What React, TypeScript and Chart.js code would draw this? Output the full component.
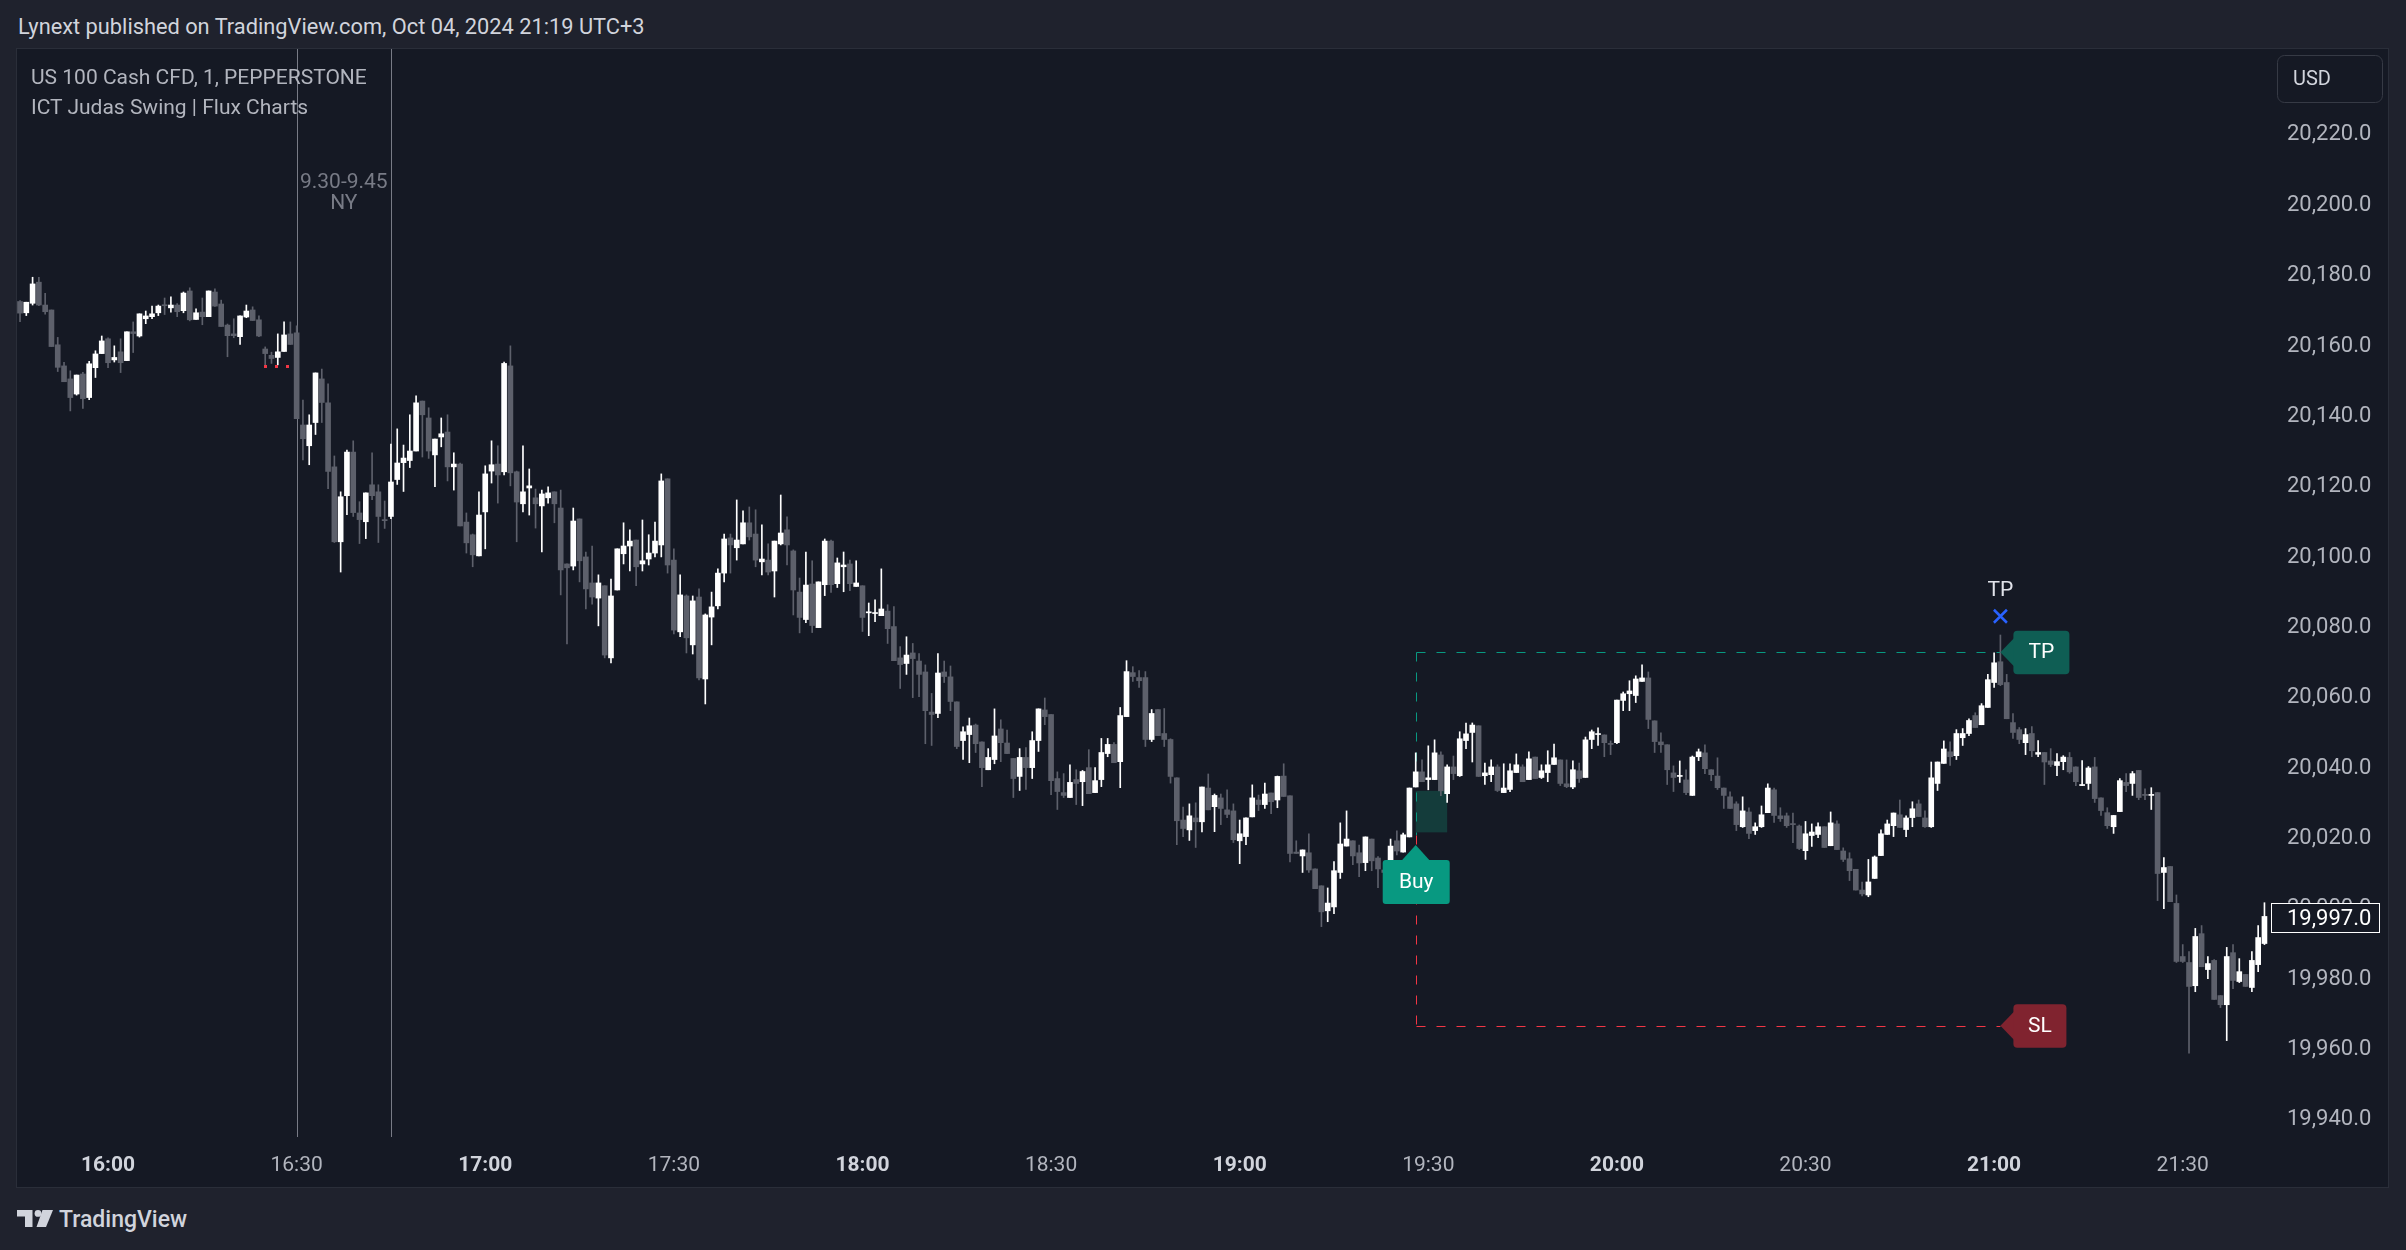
import React, { useEffect, useRef } from 'react';
import { Chart, registerables } from 'chart.js';

Chart.register(...registerables);

// ---------- data ----------
const START_TIME = '15:46';
const TIME_TICKS = ['16:00', '16:30', '17:00', '17:30', '18:00', '18:30', '19:00', '19:30', '20:00', '20:30', '21:00', '21:30'];
const PRICE_TICKS = [19940, 19960, 19980, 20000, 20020, 20040, 20060, 20080, 20100, 20120, 20140, 20160, 20180, 20200, 20220];

const OPEN = [
  20171.8, 20168.6, 20171.3, 20177.3, 20170.8, 20169.4, 20159.5, 20153.5, 20149.8, 20145.5,
  20151.2, 20144.5, 20153.0, 20157.0, 20161.2, 20155.2, 20157.5, 20155.0, 20163.2, 20162.0,
  20166.9, 20167.5, 20168.6, 20170.8, 20170.0, 20170.8, 20169.2, 20174.8, 20166.7, 20168.8,
  20167.5, 20174.5, 20171.1, 20165.1, 20162.6, 20161.8, 20167.4, 20169.4, 20166.6, 20158.3,
  20156.5, 20155.9, 20157.6, 20162.6, 20162.9, 20136.7, 20130.8, 20137.4, 20149.8, 20143.0,
  20124.8, 20103.5, 20116.6, 20129.0, 20111.7, 20109.2, 20119.7, 20117.7, 20109.8, 20110.7,
  20121.2, 20126.0, 20126.6, 20129.3, 20143.5, 20138.7, 20128.2, 20133.3, 20134.7, 20124.8,
  20125.6, 20109.1, 20105.5, 20099.5, 20112.0, 20123.6, 20125.6, 20123.4, 20153.5, 20123.4,
  20114.3, 20118.8, 20116.0, 20113.7, 20116.0, 20117.7, 20113.1, 20097.2, 20096.6, 20110.0,
  20099.2, 20091.8, 20087.5, 20091.0, 20070.5, 20089.8, 20100.1, 20102.3, 20104.0, 20097.2,
  20098.6, 20100.3, 20102.6, 20121.4, 20098.3, 20077.9, 20088.1, 20074.2, 20087.8, 20064.5,
  20082.1, 20085.3, 20094.6, 20104.6, 20101.8, 20102.9, 20108.9, 20105.7, 20097.8, 20098.3,
  20095.2, 20102.9, 20106.9, 20100.9, 20089.2, 20081.4, 20091.5, 20079.1, 20091.3, 20103.7,
  20091.6, 20096.4, 20097.2, 20090.8, 20091.0, 20083.3, 20083.1, 20082.5, 20083.8, 20079.4,
  20070.5, 20068.9, 20071.9, 20069.6, 20066.5, 20055.1, 20054.7, 20066.5, 20065.1, 20058.0,
  20047.0, 20048.7, 20051.4, 20046.6, 20038.7, 20041.6, 20050.3, 20046.3, 20041.9, 20036.8,
  20042.2, 20039.3, 20047.0, 20055.7, 20054.4, 20036.2, 20032.2, 20030.8, 20035.9, 20035.3,
  20039.3, 20032.2, 20035.9, 20043.3, 20045.9, 20041.0, 20053.8, 20066.3, 20064.9, 20064.9,
  20047.3, 20055.8, 20049.0, 20047.3, 20036.4, 20024.4, 20021.6, 20025.0, 20023.9, 20033.5,
  20028.2, 20030.7, 20027.3, 20027.0, 20018.5, 20019.7, 20025.3, 20030.1, 20028.8, 20032.1,
  20030.1, 20036.9, 20031.3, 20015.3, 20014.2, 20015.1, 20010.5, 20005.7, 19998.6, 19999.7,
  20009.5, 20017.0, 20018.5, 20015.1, 20012.3, 20019.0, 20013.6, 20010.2, 20010.6, 20018.5,
  20015.3, 20019.6, 20033.8, 20038.1, 20035.9, 20035.9, 20042.9, 20031.9, 20039.5, 20037.0,
  20047.0, 20049.3, 20051.2, 20037.0, 20037.3, 20039.5, 20032.2, 20033.1, 20037.9, 20039.5,
  20035.9, 20042.3, 20036.5, 20037.9, 20040.2, 20041.5, 20034.7, 20033.8, 20038.4, 20036.5,
  20047.3, 20048.7, 20048.6, 20046.0, 20046.4, 20058.4, 20060.3, 20059.8, 20063.8, 20064.8,
  20052.6, 20046.6, 20045.8, 20037.8, 20036.8, 20035.8, 20031.4, 20042.4, 20043.5, 20038.7,
  20036.9, 20033.5, 20031.0, 20029.0, 20022.5, 20026.7, 20021.4, 20022.5, 20026.5, 20033.0,
  20025.6, 20025.6, 20023.3, 20022.7, 20015.7, 20020.0, 20020.3, 20022.5, 20017.1, 20023.3,
  20015.6, 20013.4, 20010.4, 20004.5, 20003.1, 20007.8, 20014.3, 20020.3, 20022.8, 20025.9,
  20021.7, 20025.1, 20029.0, 20025.0, 20022.5, 20034.8, 20040.5, 20043.8, 20042.7, 20047.8,
  20049.0, 20054.1, 20051.5, 20056.4, 20063.5, 20069.4, 20063.5, 20052.1, 20050.1, 20046.4,
  20049.0, 20043.1, 20043.6, 20041.2, 20039.9, 20041.0, 20042.2, 20039.5, 20034.2, 20034.8,
  20039.5, 20030.7, 20026.5, 20022.5, 20026.8, 20035.1, 20034.8, 20038.5, 20031.5, 20031.4,
  20032.2, 20009.5, 20011.2, 20000.7, 19985.6, 19983.9, 19977.3, 19992.1, 19981.9, 19984.5,
  19974.5, 19971.9, 19986.7, 19978.5, 19980.5, 19976.8, 19983.3, 19989.3,
];
const HIGH = [
  20172.1, 20171.6, 20178.7, 20178.7, 20174.1, 20169.4, 20161.6, 20154.5, 20152.1, 20150.9,
  20151.7, 20154.8, 20157.8, 20162.0, 20161.5, 20159.2, 20161.2, 20163.2, 20166.0, 20168.3,
  20169.1, 20170.5, 20170.8, 20172.8, 20173.1, 20171.2, 20174.5, 20175.7, 20169.7, 20172.8,
  20174.8, 20175.4, 20172.2, 20165.4, 20166.9, 20167.7, 20170.8, 20170.3, 20167.7, 20158.9,
  20157.4, 20162.6, 20166.0, 20166.0, 20164.9, 20143.8, 20139.6, 20151.5, 20152.6, 20148.4,
  20127.9, 20117.7, 20129.6, 20132.2, 20114.9, 20117.4, 20128.8, 20119.7, 20115.1, 20131.3,
  20135.6, 20131.0, 20139.6, 20145.0, 20143.5, 20141.6, 20132.7, 20138.7, 20139.6, 20128.8,
  20125.9, 20111.7, 20105.7, 20117.7, 20125.1, 20132.2, 20130.8, 20154.6, 20159.2, 20123.6,
  20130.8, 20124.2, 20118.5, 20118.2, 20119.1, 20117.7, 20118.2, 20097.2, 20113.1, 20110.0,
  20100.6, 20102.3, 20094.1, 20091.0, 20092.9, 20101.5, 20108.9, 20106.9, 20104.0, 20109.7,
  20105.5, 20109.1, 20122.8, 20121.4, 20101.5, 20094.1, 20088.4, 20088.1, 20090.1, 20083.0,
  20089.2, 20095.8, 20105.7, 20105.7, 20115.4, 20112.3, 20113.4, 20112.6, 20108.3, 20102.9,
  20103.7, 20116.8, 20110.6, 20101.2, 20093.2, 20100.6, 20098.1, 20092.1, 20104.3, 20104.0,
  20098.9, 20100.6, 20098.3, 20098.1, 20091.0, 20086.1, 20087.0, 20095.8, 20085.6, 20085.1,
  20073.7, 20076.5, 20074.6, 20071.7, 20068.5, 20060.4, 20071.7, 20069.6, 20068.2, 20058.0,
  20050.9, 20053.4, 20051.7, 20046.6, 20044.7, 20056.0, 20052.9, 20050.0, 20041.9, 20044.7,
  20045.0, 20049.5, 20056.0, 20059.1, 20054.4, 20038.1, 20037.6, 20040.1, 20038.7, 20038.5,
  20044.4, 20039.3, 20047.6, 20047.6, 20046.4, 20056.4, 20069.7, 20068.0, 20066.9, 20066.6,
  20055.8, 20055.8, 20056.1, 20047.5, 20036.4, 20028.1, 20029.0, 20029.3, 20033.8, 20037.5,
  20031.8, 20031.8, 20033.0, 20029.0, 20024.4, 20025.0, 20034.4, 20031.5, 20034.9, 20032.1,
  20036.9, 20040.4, 20031.3, 20018.5, 20015.9, 20020.5, 20010.5, 20005.7, 20005.1, 20012.6,
  20023.6, 20027.0, 20018.5, 20017.3, 20019.6, 20019.0, 20014.0, 20012.5, 20019.0, 20021.3,
  20020.7, 20033.5, 20043.5, 20041.5, 20045.5, 20047.2, 20043.8, 20040.1, 20042.6, 20049.5,
  20052.0, 20052.0, 20051.2, 20040.6, 20041.5, 20040.1, 20040.4, 20040.4, 20043.2, 20040.1,
  20043.8, 20042.3, 20040.1, 20044.1, 20046.0, 20041.5, 20041.5, 20041.2, 20040.6, 20048.0,
  20050.0, 20050.6, 20048.6, 20046.9, 20058.5, 20060.8, 20064.0, 20065.4, 20068.5, 20066.5,
  20052.6, 20049.2, 20045.8, 20039.8, 20041.2, 20038.7, 20042.6, 20044.6, 20045.8, 20038.7,
  20042.1, 20033.5, 20032.4, 20029.6, 20031.0, 20027.9, 20023.6, 20028.4, 20034.7, 20033.5,
  20027.9, 20026.4, 20026.4, 20023.0, 20024.0, 20023.3, 20023.6, 20022.5, 20026.7, 20024.2,
  20016.5, 20015.1, 20010.4, 20006.8, 20013.2, 20014.2, 20021.6, 20024.4, 20026.4, 20030.1,
  20025.6, 20029.6, 20030.1, 20027.0, 20040.9, 20040.9, 20046.9, 20046.6, 20050.1, 20050.4,
  20053.2, 20054.9, 20057.5, 20065.8, 20071.9, 20077.0, 20065.8, 20054.7, 20050.7, 20050.4,
  20051.0, 20047.0, 20043.6, 20044.7, 20043.3, 20042.7, 20043.6, 20039.5, 20041.3, 20039.6,
  20042.2, 20030.7, 20027.9, 20025.7, 20036.2, 20037.6, 20038.2, 20038.5, 20033.3, 20033.6,
  20032.2, 20013.7, 20011.2, 20003.1, 19989.0, 19987.0, 19993.6, 19994.4, 19985.6, 19984.7,
  19974.5, 19988.2, 19989.0, 19985.0, 19980.5, 19987.0, 19994.4, 20000.9,
];
const LOW = [
  20166.1, 20167.8, 20170.8, 20170.6, 20168.2, 20159.0, 20151.9, 20149.0, 20140.7, 20145.2,
  20141.4, 20143.9, 20150.2, 20157.0, 20153.0, 20154.6, 20151.6, 20155.0, 20157.3, 20161.7,
  20165.5, 20166.9, 20167.8, 20168.1, 20168.8, 20167.5, 20168.6, 20166.3, 20166.7, 20165.2,
  20167.5, 20170.4, 20164.7, 20156.1, 20161.5, 20159.6, 20167.2, 20166.4, 20161.8, 20153.3,
  20154.2, 20153.8, 20157.6, 20159.6, 20138.5, 20126.8, 20125.4, 20134.0, 20137.4, 20118.6,
  20103.3, 20094.9, 20111.2, 20110.7, 20103.0, 20104.4, 20115.5, 20103.3, 20107.3, 20110.1,
  20119.8, 20117.8, 20124.6, 20129.3, 20127.6, 20127.2, 20119.2, 20130.5, 20120.8, 20118.2,
  20108.0, 20100.3, 20096.4, 20099.5, 20101.5, 20120.2, 20114.5, 20122.5, 20119.4, 20103.5,
  20112.0, 20111.1, 20107.4, 20100.6, 20114.5, 20108.9, 20088.4, 20074.5, 20095.5, 20092.1,
  20084.4, 20085.8, 20079.6, 20070.5, 20069.1, 20089.8, 20097.2, 20095.2, 20091.0, 20095.2,
  20096.9, 20099.2, 20099.2, 20094.6, 20077.3, 20076.5, 20071.9, 20071.6, 20064.2, 20057.4,
  20074.2, 20084.4, 20092.1, 20094.6, 20098.3, 20102.9, 20104.0, 20096.4, 20094.1, 20094.1,
  20087.8, 20102.6, 20096.9, 20082.7, 20077.6, 20080.5, 20077.7, 20079.1, 20088.2, 20089.1,
  20090.5, 20089.3, 20089.6, 20090.8, 20078.0, 20076.8, 20080.8, 20082.5, 20074.6, 20069.7,
  20061.8, 20065.8, 20059.2, 20059.5, 20046.1, 20045.6, 20053.5, 20063.5, 20055.5, 20044.7,
  20041.6, 20040.7, 20043.6, 20033.9, 20038.7, 20040.4, 20041.0, 20043.3, 20030.8, 20032.8,
  20033.1, 20036.2, 20043.9, 20051.5, 20031.6, 20027.4, 20030.8, 20030.8, 20028.8, 20028.5,
  20031.9, 20032.2, 20033.9, 20042.4, 20040.7, 20033.6, 20053.8, 20063.8, 20062.1, 20045.3,
  20046.7, 20048.4, 20045.3, 20034.9, 20017.4, 20019.7, 20018.6, 20016.6, 20021.0, 20027.3,
  20021.1, 20023.1, 20025.1, 20018.0, 20012.0, 20017.4, 20025.3, 20027.1, 20027.7, 20026.2,
  20027.9, 20031.1, 20012.5, 20014.9, 20009.5, 20009.5, 20004.9, 19994.1, 19995.5, 19997.8,
  20007.8, 20017.0, 20011.7, 20008.3, 20010.0, 20010.0, 20005.2, 20008.3, 20010.6, 20014.5,
  20015.3, 20019.6, 20033.8, 20035.3, 20033.0, 20035.9, 20031.3, 20029.4, 20035.9, 20036.8,
  20044.7, 20040.9, 20036.8, 20034.5, 20035.3, 20032.5, 20032.2, 20032.5, 20037.9, 20035.3,
  20035.9, 20036.2, 20036.2, 20035.3, 20040.2, 20034.2, 20033.6, 20033.3, 20035.1, 20036.5,
  20044.7, 20045.6, 20042.4, 20043.0, 20046.1, 20055.5, 20055.5, 20057.8, 20063.8, 20050.4,
  20043.6, 20043.6, 20034.5, 20032.5, 20035.1, 20031.6, 20031.4, 20041.3, 20037.6, 20035.6,
  20033.1, 20027.7, 20027.7, 20021.4, 20022.3, 20019.1, 20020.3, 20022.3, 20026.5, 20023.7,
  20024.0, 20022.3, 20018.0, 20016.0, 20013.2, 20016.9, 20019.4, 20016.6, 20017.1, 20016.0,
  20012.6, 20007.2, 20004.5, 20002.8, 20002.6, 20007.8, 20014.3, 20020.3, 20019.7, 20022.3,
  20019.7, 20022.5, 20025.4, 20022.3, 20022.3, 20032.8, 20040.5, 20039.9, 20041.6, 20045.6,
  20048.4, 20050.7, 20051.5, 20056.4, 20062.1, 20062.6, 20053.2, 20047.6, 20046.1, 20043.0,
  20042.4, 20042.4, 20034.5, 20039.6, 20037.0, 20038.7, 20037.7, 20034.2, 20034.2, 20033.1,
  20029.4, 20025.7, 20022.0, 20020.6, 20026.8, 20032.5, 20031.4, 20030.2, 20030.2, 20027.4,
  20001.5, 19999.2, 20001.2, 19983.9, 19983.9, 19958.1, 19975.6, 19982.7, 19979.3, 19973.4,
  19971.1, 19961.7, 19976.5, 19978.2, 19977.1, 19975.6, 19981.3, 19989.0,
];
const CLOSE = [
  20168.5, 20171.6, 20176.8, 20170.8, 20168.9, 20159.0, 20153.1, 20149.0, 20144.5, 20150.9,
  20144.2, 20154.1, 20156.9, 20160.6, 20154.4, 20155.9, 20154.4, 20163.2, 20162.7, 20168.3,
  20167.7, 20168.3, 20170.5, 20170.6, 20170.8, 20168.9, 20174.2, 20166.6, 20168.6, 20167.5,
  20174.8, 20170.5, 20164.7, 20162.1, 20162.1, 20167.7, 20169.1, 20166.4, 20162.0, 20157.0,
  20155.6, 20157.5, 20162.3, 20159.6, 20138.5, 20132.8, 20136.7, 20151.5, 20143.1, 20123.5,
  20103.5, 20116.3, 20129.0, 20111.8, 20109.8, 20117.4, 20116.6, 20110.7, 20109.5, 20120.5,
  20125.9, 20127.3, 20129.3, 20143.0, 20139.6, 20129.3, 20132.7, 20134.2, 20124.8, 20125.6,
  20108.0, 20103.2, 20099.8, 20111.1, 20122.8, 20125.4, 20122.5, 20154.2, 20123.1, 20114.8,
  20117.7, 20119.4, 20114.3, 20117.1, 20117.4, 20114.3, 20095.5, 20096.1, 20109.4, 20098.1,
  20090.1, 20087.8, 20091.8, 20071.3, 20088.1, 20101.5, 20102.3, 20103.7, 20096.4, 20098.1,
  20100.3, 20103.7, 20120.8, 20096.9, 20078.4, 20088.4, 20076.2, 20086.7, 20064.8, 20082.7,
  20085.0, 20094.6, 20104.3, 20102.6, 20104.0, 20108.9, 20104.9, 20098.3, 20098.6, 20094.9,
  20103.7, 20106.0, 20102.6, 20089.8, 20082.0, 20091.2, 20079.7, 20092.1, 20103.7, 20091.3,
  20097.5, 20096.9, 20091.6, 20091.8, 20082.0, 20083.6, 20083.3, 20084.4, 20078.8, 20069.7,
  20068.6, 20071.3, 20070.3, 20065.8, 20055.5, 20054.4, 20066.2, 20065.2, 20058.1, 20045.3,
  20049.5, 20051.2, 20046.1, 20039.3, 20042.2, 20048.3, 20046.4, 20043.3, 20036.2, 20042.2,
  20039.3, 20047.0, 20056.0, 20053.8, 20035.6, 20032.5, 20031.4, 20035.1, 20034.8, 20038.2,
  20031.9, 20035.6, 20043.6, 20045.9, 20040.7, 20054.1, 20066.6, 20065.2, 20064.0, 20047.3,
  20054.7, 20048.4, 20047.3, 20036.8, 20024.2, 20022.0, 20025.6, 20023.9, 20033.8, 20027.3,
  20031.4, 20027.7, 20026.0, 20018.8, 20020.5, 20025.0, 20030.7, 20028.8, 20031.8, 20029.6,
  20036.8, 20031.1, 20014.9, 20014.9, 20015.9, 20010.2, 20004.9, 19998.3, 20000.8, 20010.0,
  20017.6, 20019.0, 20014.2, 20012.2, 20019.6, 20012.8, 20010.5, 20009.5, 20017.0, 20015.6,
  20020.2, 20033.5, 20038.1, 20035.3, 20036.4, 20043.5, 20032.7, 20039.5, 20037.6, 20047.5,
  20048.9, 20051.4, 20036.8, 20037.8, 20039.5, 20032.8, 20033.5, 20038.4, 20040.1, 20035.3,
  20041.8, 20036.2, 20038.4, 20040.1, 20042.1, 20034.8, 20033.9, 20038.7, 20036.2, 20047.2,
  20049.5, 20048.9, 20046.4, 20045.9, 20058.5, 20060.3, 20061.1, 20064.5, 20064.8, 20053.0,
  20046.7, 20045.8, 20038.7, 20036.5, 20036.9, 20032.2, 20042.3, 20043.8, 20039.0, 20037.3,
  20033.6, 20031.4, 20027.7, 20023.1, 20027.0, 20020.6, 20022.5, 20025.9, 20033.5, 20025.7,
  20024.8, 20022.8, 20023.1, 20016.3, 20020.5, 20021.0, 20022.5, 20016.6, 20023.6, 20016.0,
  20013.2, 20010.0, 20004.5, 20003.4, 20006.8, 20013.9, 20020.5, 20023.3, 20026.4, 20022.3,
  20025.0, 20027.6, 20025.4, 20022.5, 20036.4, 20040.9, 20044.6, 20042.4, 20049.0, 20049.0,
  20052.7, 20050.7, 20056.9, 20064.3, 20069.1, 20062.9, 20053.2, 20049.3, 20047.3, 20048.7,
  20044.1, 20043.6, 20040.9, 20040.2, 20041.0, 20042.3, 20038.1, 20035.3, 20034.5, 20039.2,
  20030.5, 20027.1, 20022.8, 20025.7, 20035.6, 20034.2, 20037.6, 20030.8, 20031.4, 20031.6,
  20009.2, 20010.9, 20001.2, 19984.2, 19984.2, 19977.1, 19991.3, 19982.7, 19983.6, 19973.4,
  19971.9, 19985.6, 19978.8, 19981.3, 19977.1, 19984.5, 19991.0, 19997.0,
];

// indicator / annotation values
const SESSION_START = '16:30';
const SESSION_END = '16:45';
const SESSION_LABEL = '9.30-9.45';
const SESSION_SUB = 'NY';
const SWEEP_LEVEL = 20153.4;
const SWEEP_FROM_BAR = 38.8;
const SWEEP_TO_BAR = 42.9;
const SIGNAL_TIME = '19:28';
const ENTRY_PRICE = 20020.0;
const TP_PRICE = 20072.1;
const SL_PRICE = 19965.9;
const EXIT_TIME = '21:01';
const BUY_LABEL_PRICE = 20017.3;
const FVG_TOP = 20032.7;
const FVG_BOTTOM = 20020.9;
const FVG_BARS = 5;
const LAST_PRICE = CLOSE[CLOSE.length - 1];

// ---------- style ----------
const FONT = 'Roboto, "Noto Sans", sans-serif';
const OUTER_BG = '#1f222d';
const PLOT_BG = '#151924';
const PANEL_BORDER = '#2a2e39';
const BULL = '#ffffff';
const BEAR = '#5d606b';
const AXIS_TEXT = '#b2b5be';
const X_MIN = -0.48;
const X_MAX = 358.2;
const Y_MIN = 19934.3;
const Y_MAX = 20243.3;

function barIndex(t: string): number {
  const [h, m] = t.split(':').map(Number);
  const [sh, sm] = START_TIME.split(':').map(Number);
  return h * 60 + m - (sh * 60 + sm);
}

function fmtPrice(v: number): string {
  return v.toLocaleString('en-US', { minimumFractionDigits: 1, maximumFractionDigits: 1 });
}

const overlayPlugin = {
  id: 'ictOverlay',
  beforeDatasetsDraw(chart: any) {
    const { ctx, chartArea: a } = chart;
    const x = chart.scales.x;
    const y = chart.scales.y;
    ctx.save();

    // session window lines
    ctx.strokeStyle = '#787b86';
    ctx.lineWidth = 1;
    [SESSION_START, SESSION_END].forEach((t) => {
      const px = Math.round(x.getPixelForValue(barIndex(t))) + 0.5;
      ctx.beginPath();
      ctx.moveTo(px, 0);
      ctx.lineTo(px, a.bottom);
      ctx.stroke();
    });
    const mid = (x.getPixelForValue(barIndex(SESSION_START)) + x.getPixelForValue(barIndex(SESSION_END))) / 2;
    ctx.fillStyle = '#787b86';
    ctx.font = `21px ${FONT}`;
    ctx.textAlign = 'center';
    ctx.textBaseline = 'middle';
    ctx.fillText(SESSION_LABEL, mid, 134);
    ctx.fillText(SESSION_SUB, mid, 155);

    // fvg box
    const s = barIndex(SIGNAL_TIME);
    const fx0 = x.getPixelForValue(s);
    const fx1 = x.getPixelForValue(s + FVG_BARS);
    const fy0 = y.getPixelForValue(FVG_TOP);
    const fy1 = y.getPixelForValue(FVG_BOTTOM);
    ctx.fillStyle = '#143c3b';
    ctx.fillRect(fx0, fy0, fx1 - fx0, fy1 - fy0);

    // trade lines
    const ex = x.getPixelForValue(s);
    const xx = x.getPixelForValue(barIndex(EXIT_TIME));
    const tpY = Math.round(y.getPixelForValue(TP_PRICE)) + 0.5;
    const slY = Math.round(y.getPixelForValue(SL_PRICE)) + 0.5;
    const enY = y.getPixelForValue(ENTRY_PRICE);
    const vx = Math.round(ex) + 0.5;
    ctx.lineWidth = 1;
    ctx.setLineDash([9, 11]);
    ctx.strokeStyle = '#089981';
    ctx.beginPath();
    ctx.moveTo(vx, tpY);
    ctx.lineTo(xx, tpY);
    ctx.stroke();
    ctx.beginPath();
    ctx.moveTo(vx, tpY);
    ctx.lineTo(vx, enY);
    ctx.stroke();
    ctx.strokeStyle = '#f23645';
    ctx.beginPath();
    ctx.moveTo(vx, slY);
    ctx.lineTo(xx, slY);
    ctx.stroke();
    ctx.beginPath();
    ctx.moveTo(vx, enY);
    ctx.lineTo(vx, slY);
    ctx.stroke();
    ctx.setLineDash([]);
    ctx.restore();
  },
  afterDatasetsDraw(chart: any) {
    const { ctx } = chart;
    const x = chart.scales.x;
    const y = chart.scales.y;
    ctx.save();

    // sweep level dots
    ctx.fillStyle = '#f23645';
    const sy = Math.round(y.getPixelForValue(SWEEP_LEVEL));
    const sx0 = x.getPixelForValue(SWEEP_FROM_BAR);
    const sx1 = x.getPixelForValue(SWEEP_TO_BAR);
    for (let px = sx0; px < sx1; px += 11) {
      ctx.fillRect(Math.round(px), sy - 1, 3, 3);
    }

    ctx.textAlign = 'center';
    ctx.textBaseline = 'middle';
    ctx.font = `21px ${FONT}`;

    // Buy label
    const bx = x.getPixelForValue(barIndex(SIGNAL_TIME));
    const by = y.getPixelForValue(BUY_LABEL_PRICE);
    ctx.fillStyle = '#089981';
    ctx.beginPath();
    ctx.moveTo(bx, by);
    ctx.lineTo(bx + 14, by + 15.5);
    ctx.lineTo(bx - 14, by + 15.5);
    ctx.closePath();
    ctx.fill();
    ctx.beginPath();
    ctx.roundRect(bx - 33, by + 15, 67, 44, 3);
    ctx.fill();
    ctx.fillStyle = '#ffffff';
    ctx.fillText('Buy', bx + 0.5, by + 38);

    // TP / SL tags
    const tx = x.getPixelForValue(barIndex(EXIT_TIME));
    const tag = (py: number, w: number, color: string, text: string) => {
      ctx.fillStyle = color;
      ctx.beginPath();
      ctx.moveTo(tx, py);
      ctx.lineTo(tx + 14, py - 14.5);
      ctx.lineTo(tx + 14, py + 14.5);
      ctx.closePath();
      ctx.fill();
      ctx.beginPath();
      ctx.roundRect(tx + 13, py - 21.5, w, 43.5, 4);
      ctx.fill();
      ctx.fillStyle = '#ffffff';
      ctx.fillText(text, tx + 13 + w / 2, py + 1);
    };
    const tpY = y.getPixelForValue(TP_PRICE);
    const slY = y.getPixelForValue(SL_PRICE);
    tag(tpY, 56, '#0f5e54', 'TP');
    tag(slY, 53, '#80232f', 'SL');

    // TP hit marker
    ctx.strokeStyle = '#2962ff';
    ctx.lineWidth = 2.5;
    const cy = tpY - 36;
    ctx.beginPath();
    ctx.moveTo(tx - 6.5, cy - 6.5);
    ctx.lineTo(tx + 6.5, cy + 6.5);
    ctx.moveTo(tx + 6.5, cy - 6.5);
    ctx.lineTo(tx - 6.5, cy + 6.5);
    ctx.stroke();
    ctx.fillStyle = '#e1e3ea';
    ctx.fillText('TP', tx, tpY - 61);
    ctx.restore();
  },
  afterDraw(chart: any) {
    const { ctx, chartArea: a } = chart;
    const y = chart.scales.y;
    ctx.save();
    // last price label
    const yp = Math.round(y.getPixelForValue(LAST_PRICE)) + 2;
    ctx.fillStyle = PLOT_BG;
    ctx.fillRect(a.right, yp - 15, 109, 30);
    ctx.strokeStyle = '#ffffff';
    ctx.lineWidth = 1;
    ctx.strokeRect(a.right - 0.5, yp - 14.5, 108, 29);
    ctx.fillStyle = '#ffffff';
    ctx.font = `22px ${FONT}`;
    ctx.textAlign = 'left';
    ctx.textBaseline = 'middle';
    ctx.fillText(fmtPrice(LAST_PRICE), a.right + 15, yp + 1.5);

    // currency box
    ctx.strokeStyle = '#363a45';
    ctx.beginPath();
    ctx.roundRect(a.right + 5.5, 6.5, 105, 47, 7);
    ctx.stroke();
    ctx.fillStyle = '#d1d4dc';
    ctx.font = `20px ${FONT}`;
    ctx.fillText('USD', a.right + 21, 31);
    ctx.restore();
  },
};

function CandleChart() {
  const ref = useRef<HTMLCanvasElement | null>(null);
  useEffect(() => {
    if (!ref.current) return;
    const idx = OPEN.map((_, i) => i);
    const colors = OPEN.map((o, i) => (CLOSE[i] >= o ? BULL : BEAR));
    const chart = new Chart(ref.current, {
      type: 'bar',
      data: {
        datasets: [
          {
            label: 'wick',
            data: idx.map((i) => ({ x: i, y: [LOW[i], HIGH[i]] })) as any,
            backgroundColor: colors,
            barThickness: 1,
            grouped: false,
            order: 2,
          },
          {
            label: 'body',
            data: idx.map((i) => ({ x: i, y: [OPEN[i], CLOSE[i]] })) as any,
            backgroundColor: colors,
            barThickness: 5,
            minBarLength: 1,
            grouped: false,
            order: 1,
          },
        ],
      },
      options: {
        animation: false,
        responsive: false,
        maintainAspectRatio: false,
        devicePixelRatio: 1,
        events: [],
        layout: { padding: { top: 1, left: 0, right: 0, bottom: 0 } },
        plugins: { legend: { display: false }, tooltip: { enabled: false } },
        scales: {
          x: {
            type: 'linear',
            min: X_MIN,
            max: X_MAX,
            offset: false,
            grid: { display: false, drawTicks: false },
            border: { display: false },
            afterBuildTicks: (s: any) => {
              s.ticks = TIME_TICKS.map((t) => ({ value: barIndex(t) }));
            },
            afterFit: (s: any) => {
              s.height = 50;
              s.paddingLeft = 0;
              s.paddingRight = 0;
            },
            ticks: {
              autoSkip: false,
              maxRotation: 0,
              padding: 16,
              color: (c: any) => (TIME_TICKS[c.index] && TIME_TICKS[c.index].endsWith(':00') ? '#d1d4dc' : AXIS_TEXT),
              font: (c: any) => ({
                family: FONT,
                size: 21,
                weight: TIME_TICKS[c.index] && TIME_TICKS[c.index].endsWith(':00') ? 'bold' : 'normal',
              }),
              callback: (_v: any, i: number) => TIME_TICKS[i],
            },
          } as any,
          y: {
            type: 'linear',
            position: 'right',
            min: Y_MIN,
            max: Y_MAX,
            grid: { display: false, drawTicks: false },
            border: { display: false },
            afterBuildTicks: (s: any) => {
              s.ticks = PRICE_TICKS.map((v) => ({ value: v }));
            },
            afterFit: (s: any) => {
              s.width = 116;
              s.paddingTop = 0;
              s.paddingBottom = 0;
            },
            ticks: {
              padding: 15,
              labelOffset: 3,
              color: AXIS_TEXT,
              font: { family: FONT, size: 22 },
              callback: (v: any) => fmtPrice(Number(v)),
            },
          } as any,
        },
      },
      plugins: [overlayPlugin],
    });
    return () => chart.destroy();
  }, []);
  return <canvas ref={ref} width={2371} height={1138} style={{ display: 'block', width: 2371, height: 1138 }} />;
}

export default function App() {
  return (
    <div
      style={{
        position: 'fixed',
        left: 0,
        top: 0,
        width: 2406,
        height: 1250,
        background: OUTER_BG,
        overflow: 'hidden',
        fontFamily: FONT,
      }}
    >
      <div style={{ position: 'absolute', left: 18, top: 13, fontSize: 21.8, lineHeight: '28px', color: '#d1d4dc', whiteSpace: 'nowrap' }}>
        Lynext published on TradingView.com, Oct 04, 2024 21:19 UTC+3
      </div>
      <div
        style={{
          position: 'absolute',
          left: 16,
          top: 48,
          width: 2371,
          height: 1138,
          border: `1px solid ${PANEL_BORDER}`,
          background: PLOT_BG,
        }}
      >
        <CandleChart />
      </div>
      <div style={{ position: 'absolute', left: 31, top: 63, fontSize: 21, lineHeight: '28px', color: AXIS_TEXT, whiteSpace: 'nowrap' }}>
        US 100 Cash CFD, 1, PEPPERSTONE
      </div>
      <div style={{ position: 'absolute', left: 31, top: 93, fontSize: 21, lineHeight: '28px', color: AXIS_TEXT, whiteSpace: 'nowrap' }}>
        ICT Judas Swing | Flux Charts
      </div>
      <svg width="37" height="18" viewBox="0 0 37 18" style={{ position: 'absolute', left: 17, top: 1210 }}>
        <path d="M0 0H15.5V17H8V6.5H0Z" fill="#d1d4dc" />
        <circle cx="21" cy="3.4" r="3.4" fill="#d1d4dc" />
        <path d="M25.5 0H36L29 17H19.5Z" fill="#d1d4dc" />
      </svg>
      <div style={{ position: 'absolute', left: 59, top: 1206, fontSize: 23, fontWeight: 500, lineHeight: '28px', color: '#d1d4dc', whiteSpace: 'nowrap' }}>
        TradingView
      </div>
    </div>
  );
}
